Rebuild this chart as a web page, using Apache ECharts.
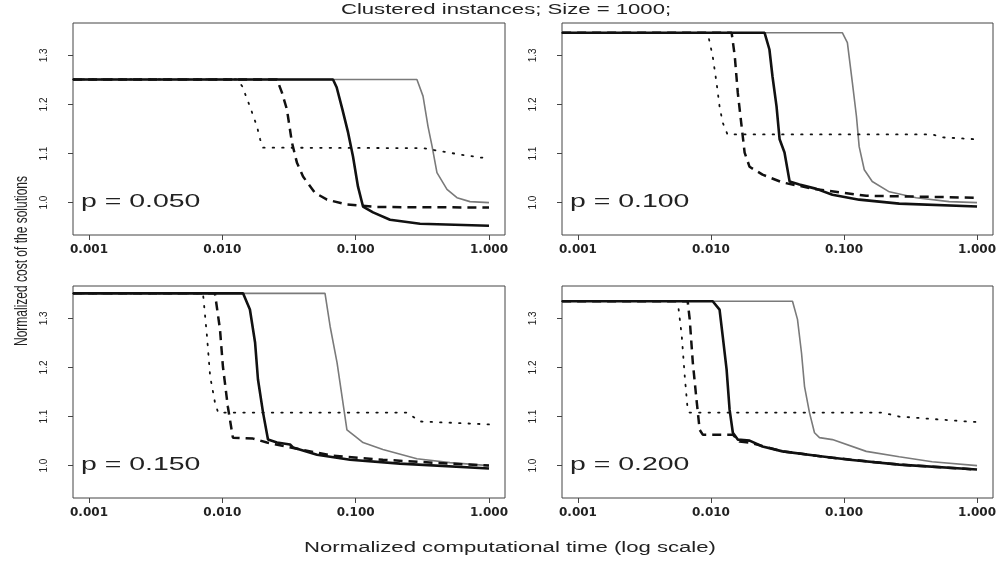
<!DOCTYPE html>
<html>
<head>
<meta charset="utf-8">
<script src="https://cdn.jsdelivr.net/npm/echarts@6/dist/echarts.min.js"></script>
<style>html,body{margin:0;padding:0;background:#fff}#c{width:1006px;height:564px}</style>
</head>
<body>
<div id="c"></div>
<script>
// ---- data: [normalized time, normalized cost] ----
const xTicks = [0.001, 0.01, 0.1, 1];
const yTicks = [1.0, 1.1, 1.2, 1.3];
const panelLabels = ['p = 0.050', 'p = 0.100', 'p = 0.150', 'p = 0.200'];
const titleText = 'Clustered instances; Size = 1000;';
const xTitle = 'Normalized computational time (log scale)';
const yTitle = 'Normalized cost of the solutions';

const p050Gray = [[0.00076,1.251],[0.288,1.251],[0.32,1.217],[0.349,1.155],[0.374,1.115],[0.407,1.061],[0.484,1.027],[0.575,1.010],[0.72,1.002],[1.0,1.0]];
const p050Dotted = [[0.00076,1.251],[0.0129,1.251],[0.0141,1.237],[0.0161,1.196],[0.0182,1.155],[0.0192,1.129],[0.0202,1.112],[0.32,1.111],[0.452,1.104],[0.607,1.098],[0.857,1.092],[1.0,1.09]];
const p050Dashed = [[0.00076,1.251],[0.0257,1.251],[0.028,1.224],[0.0305,1.19],[0.0333,1.122],[0.0363,1.081],[0.0403,1.053],[0.0495,1.02],[0.061,1.006],[0.086,0.996],[0.145,0.991],[1.0,0.99]];
const p050Black = [[0.00076,1.251],[0.0676,1.251],[0.072,1.235],[0.0795,1.19],[0.0877,1.143],[0.0955,1.094],[0.104,1.033],[0.1135,0.992],[0.135,0.98],[0.181,0.965],[0.304,0.957],[1.0,0.953]];

const p100Gray = [[0.00076,1.346],[0.0973,1.346],[0.106,1.326],[0.1155,1.245],[0.124,1.176],[0.13,1.114],[0.142,1.067],[0.163,1.043],[0.219,1.022],[0.349,1.01],[0.617,1.002],[1.0,1.0]];
const p100Dotted = [[0.00076,1.346],[0.00944,1.346],[0.0103,1.298],[0.011,1.245],[0.0116,1.196],[0.01225,1.163],[0.0133,1.139],[0.46,1.139],[0.547,1.133],[1.0,1.129]];
const p100Dashed = [[0.00076,1.346],[0.0143,1.346],[0.0151,1.298],[0.0159,1.224],[0.017,1.155],[0.0179,1.102],[0.0195,1.073],[0.0244,1.057],[0.0345,1.041],[0.062,1.027],[0.147,1.014],[1.0,1.01]];
const p100Black = [[0.00076,1.346],[0.0253,1.346],[0.0275,1.312],[0.029,1.257],[0.0311,1.196],[0.0328,1.129],[0.0357,1.102],[0.039,1.043],[0.0462,1.037],[0.062,1.028],[0.0818,1.016],[0.13,1.006],[0.26,0.998],[1.0,0.992]];

const p150Gray = [[0.00076,1.351],[0.0589,1.351],[0.0643,1.284],[0.0725,1.21],[0.079,1.141],[0.086,1.073],[0.102,1.057],[0.1135,1.047],[0.16,1.033],[0.288,1.014],[0.51,1.006],[1.0,1.0]];
const p150Dotted = [[0.00076,1.351],[0.00716,1.351],[0.00767,1.264],[0.0081,1.182],[0.0088,1.129],[0.0093,1.108],[0.243,1.108],[0.304,1.09],[1.0,1.084]];
const p150Dashed = [[0.00076,1.351],[0.0088,1.351],[0.0096,1.278],[0.0101,1.202],[0.011,1.12],[0.012,1.057],[0.017,1.055],[0.0216,1.047],[0.0383,1.033],[0.0676,1.02],[0.16,1.012],[0.38,1.006],[1.0,1.0]];
const p150Black = [[0.00076,1.351],[0.0143,1.351],[0.0161,1.318],[0.0176,1.251],[0.0185,1.176],[0.0202,1.108],[0.022,1.053],[0.0257,1.047],[0.0322,1.043],[0.0339,1.037],[0.0513,1.022],[0.0908,1.012],[0.215,1.004],[1.0,0.994]];

const p200Gray = [[0.00076,1.335],[0.041,1.335],[0.0447,1.298],[0.0479,1.23],[0.0505,1.161],[0.055,1.108],[0.06,1.067],[0.0654,1.057],[0.0818,1.053],[0.147,1.029],[0.26,1.018],[0.46,1.008],[1.0,1.0]];
const p200Dotted = [[0.00076,1.335],[0.00562,1.335],[0.00603,1.264],[0.00635,1.182],[0.00668,1.114],[0.0069,1.108],[0.194,1.108],[0.26,1.1],[0.83,1.09],[1.0,1.089]];
const p200Dashed = [[0.00076,1.335],[0.00668,1.335],[0.00692,1.298],[0.0073,1.21],[0.00782,1.129],[0.00822,1.073],[0.00867,1.063],[0.0146,1.063],[0.0164,1.049],[0.0195,1.047],[0.0345,1.029],[0.0818,1.016],[0.26,1.002],[1.0,0.992]];
const p200Black = [[0.00076,1.335],[0.0103,1.335],[0.0116,1.318],[0.01225,1.264],[0.0131,1.196],[0.0138,1.114],[0.0146,1.067],[0.0159,1.053],[0.0195,1.051],[0.0244,1.039],[0.0345,1.029],[0.062,1.02],[0.11,1.012],[0.26,1.002],[1.0,0.992]];

const panels = [
  {gray: p050Gray, dotted: p050Dotted, dashed: p050Dashed, black: p050Black},
  {gray: p100Gray, dotted: p100Dotted, dashed: p100Dashed, black: p100Black},
  {gray: p150Gray, dotted: p150Dotted, dashed: p150Dashed, black: p150Black},
  {gray: p200Gray, dotted: p200Dotted, dashed: p200Dashed, black: p200Black}
];

// ---- layout ----
const gridRects = [
  {left: 73, top: 23, width: 432, height: 212},
  {left: 562, top: 23, width: 431, height: 212},
  {left: 73, top: 286, width: 432, height: 212},
  {left: 562, top: 286, width: 431, height: 212}
];
const X_MIN = Math.pow(10, -3.12), X_MAX = Math.pow(10, 0.12);
const Y_MIN = 0.934, Y_MAX = 1.366;
const SX = 1.58;
const boxColor = '#444';
const txtColor = '#222';

const grid = [], xAxis = [], yAxis = [], series = [], graphic = [];
gridRects.forEach((r, i) => {
  grid.push(Object.assign({show: true, borderColor: boxColor, borderWidth: 1, backgroundColor: 'transparent'}, r));
  xAxis.push({
    type: 'log', logBase: 10, gridIndex: i, min: X_MIN, max: X_MAX,
    axisLine: {show: false},
    splitLine: {show: false},
    axisTick: {show: true, inside: false, length: 5, lineStyle: {color: boxColor, width: 1}, customValues: xTicks},
    axisLabel: {show: true, margin: 9, customValues: xTicks, color: txtColor,
      fontFamily: 'DejaVu Sans', fontWeight: 'bold', fontSize: 12,
      formatter: v => Number(v).toFixed(3)}
  });
  yAxis.push({
    type: 'value', gridIndex: i, min: Y_MIN, max: Y_MAX,
    axisLine: {show: false},
    splitLine: {show: false},
    axisTick: {show: true, inside: false, length: 5, lineStyle: {color: boxColor, width: 1}, customValues: yTicks},
    axisLabel: {show: true, rotate: 90, margin: 24, customValues: yTicks, color: txtColor,
      fontFamily: 'Liberation Sans', fontSize: 10,
      formatter: v => Number(v).toFixed(1)}
  });
  const p = panels[i];
  const base = {type: 'line', xAxisIndex: i, yAxisIndex: i, showSymbol: false, symbol: 'none', animation: false, silent: true};
  series.push(Object.assign({}, base, {name: 'gray' + i, data: p.gray, lineStyle: {color: '#7a7a7a', width: 1.6}}));
  series.push(Object.assign({}, base, {name: 'dotted' + i, data: p.dotted, lineStyle: {color: '#111', width: 1.8, type: [1.5, 8], cap: 'round'}}));
  series.push(Object.assign({}, base, {name: 'dashed' + i, data: p.dashed, lineStyle: {color: '#111', width: 2.5, type: [9, 6]}}));
  series.push(Object.assign({}, base, {name: 'black' + i, data: p.black, lineStyle: {color: '#111', width: 2.6}}));

  graphic.push({
    type: 'text', x: r.left + 8, y: r.top + 179, scaleX: SX,
    style: {text: panelLabels[i], fontFamily: 'Liberation Sans', fontSize: 18, fill: txtColor, textAlign: 'left', textVerticalAlign: 'middle'}
  });
});

graphic.push({
  type: 'text', x: 506, y: 10, scaleX: SX,
  style: {text: titleText, fontFamily: 'Liberation Sans', fontSize: 14, fill: txtColor, textAlign: 'center', textVerticalAlign: 'middle'}
});
graphic.push({
  type: 'text', x: 510, y: 548, scaleX: SX,
  style: {text: xTitle, fontFamily: 'Liberation Sans', fontSize: 14, fill: txtColor, textAlign: 'center', textVerticalAlign: 'middle'}
});
graphic.push({
  type: 'text', x: 22, y: 261, rotation: Math.PI / 2, scaleY: SX,
  style: {text: yTitle, fontFamily: 'Liberation Sans', fontSize: 12, fill: txtColor, textAlign: 'center', textVerticalAlign: 'middle'}
});

const chart = echarts.init(document.getElementById('c'), null, {renderer: 'canvas'});
chart.setOption({
  backgroundColor: '#ffffff',
  animation: false,
  grid, xAxis, yAxis, series, graphic
});
</script>
</body>
</html>
